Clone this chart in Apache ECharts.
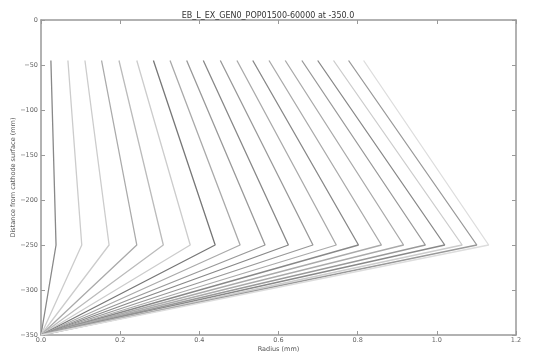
<!DOCTYPE html>
<html>
<head>
<meta charset="utf-8">
<script src="https://cdn.jsdelivr.net/npm/echarts@6/dist/echarts.min.js"></script>
<style>html,body{margin:0;padding:0;background:#fff;}#c{width:536px;height:352px;}</style>
</head>
<body>
<div id="c"></div>
<script>
var titleText = 'EB_L_EX_GEN0_POP01500-60000 at -350.0';
var xAxisName = 'Radius (mm)';
var yAxisName = 'Distance from cathode surface (mm)';
var xTicks = [0.0, 0.2, 0.4, 0.6, 0.8, 1.0, 1.2];
var yTicks = [0, -50, -100, -150, -200, -250, -300, -350];
// vertices depths: top, knee, bottom
var depths = [-45, -250, -350];
// radius at top (-45), knee (-250), bottom (-350) for each line
var topRadius = [0.025, 0.068, 0.111, 0.153, 0.197, 0.242, 0.284, 0.326, 0.368, 0.410,
                 0.453, 0.495, 0.535, 0.576, 0.617, 0.659, 0.699, 0.739, 0.777, 0.815];
var midRadius = [0.038, 0.103, 0.172, 0.242, 0.309, 0.377, 0.440, 0.503, 0.566, 0.625,
                 0.687, 0.746, 0.802, 0.860, 0.916, 0.971, 1.020, 1.064, 1.101, 1.131];
var bottomRadius = [0, 0, 0, 0, 0, 0, 0, 0, 0, 0, 0, 0, 0, 0, 0, 0, 0, 0, 0, 0];
var lineColors = ['#888888', '#cccccc', '#cccccc', '#aaaaaa', '#bbbbbb', '#cccccc', '#777777', '#aaaaaa', '#999999', '#888888',
                  '#999999', '#aaaaaa', '#888888', '#aaaaaa', '#aaaaaa', '#999999', '#888888', '#cccccc', '#999999', '#dddddd'];

function fmtY(v){ return v < 0 ? '\u2212' + Math.abs(v) : String(v); }
function fmtX(v){ return Number(v).toFixed(1); }

var series = topRadius.map(function(t, i){
  return {
    type: 'line',
    data: [[t, depths[0]], [midRadius[i], depths[1]], [bottomRadius[i], depths[2]]],
    symbol: 'none',
    silent: true,
    lineStyle: { color: lineColors[i], width: 1.3 },
    z: 2
  };
});

var axisCommon = {
  axisLine: { show: true, onZero: false, lineStyle: { color: '#999', width: 1.5 } },
  axisTick: { show: true, inside: true, length: 4, lineStyle: { color: '#999' } },
  splitLine: { show: false }
};

var chart = echarts.init(document.getElementById('c'));
chart.setOption({
  animation: false,
  backgroundColor: '#fff',
  title: {
    text: titleText, left: 'center', top: 7,
    textStyle: { fontFamily: 'DejaVu Sans', fontSize: 8, fontWeight: 'normal', color: '#333' }
  },
  grid: { left: 41, right: 20, top: 20, bottom: 17, containLabel: false, outerBoundsMode: 'none' },
  xAxis: [
    Object.assign({}, axisCommon, {
      type: 'value', position: 'bottom', min: 0, max: 1.2, interval: 0.2,
      name: xAxisName, nameLocation: 'middle', nameGap: 11, nameMoveOverlap: false,
      nameTextStyle: { fontFamily: 'DejaVu Sans', fontSize: 6.5, color: '#555' },
      axisLabel: { formatter: fmtX, fontFamily: 'DejaVu Sans', fontSize: 6.5, color: '#666', margin: 2 }
    }),
    Object.assign({}, axisCommon, {
      type: 'value', position: 'top', min: 0, max: 1.2, interval: 0.2,
      axisLabel: { show: false }
    })
  ],
  yAxis: [
    Object.assign({}, axisCommon, {
      type: 'value', position: 'left', min: -350, max: 0, interval: 50,
      name: yAxisName, nameLocation: 'middle', nameGap: 24, nameRotate: 90, nameMoveOverlap: false,
      nameTextStyle: { fontFamily: 'DejaVu Sans', fontSize: 6.5, color: '#555' },
      axisLabel: { formatter: fmtY, fontFamily: 'DejaVu Sans', fontSize: 6.5, color: '#666', margin: 3 }
    }),
    Object.assign({}, axisCommon, {
      type: 'value', position: 'right', min: -350, max: 0, interval: 50,
      axisLabel: { show: false }
    })
  ],
  series: series
});
</script>
</body>
</html>
